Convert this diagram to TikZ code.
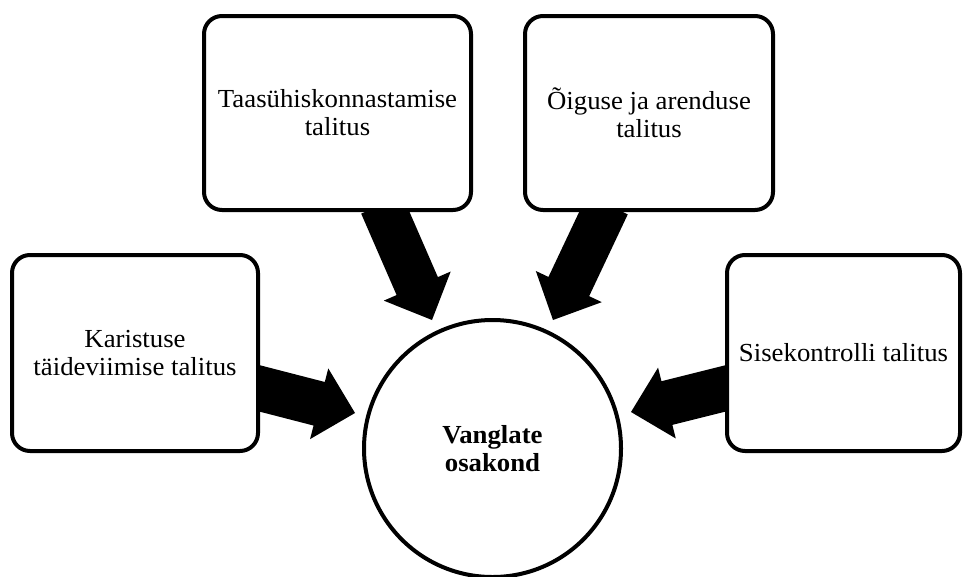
\documentclass[tikz,border=0pt]{standalone}
\usepackage{fontspec}
\setmainfont[FakeStretch=1.03]{Liberation Serif}
\usetikzlibrary{calc,backgrounds}
\newcommand{\blockarr}[2]{%
  \coordinate (ba-s) at ($(#1)!-8pt!(#2)$);
  \coordinate (ba-h) at ($(#2)!37pt!(#1)$);
  \fill[arrowfill] ($(ba-s)!22.5pt!90:(#2)$) -- ($(ba-h)!22.5pt!90:(#2)$)
    -- ($(ba-h)!36.5pt!90:(#2)$) -- (#2) -- ($(ba-h)!36.5pt!-90:(#2)$)
    -- ($(ba-h)!22.5pt!-90:(#2)$) -- ($(ba-s)!22.5pt!-90:(#2)$) -- cycle;}
\begin{document}
\begin{tikzpicture}[x=1pt,y=-1pt,
  unit/.style={draw=black, line width=4pt, rounded corners=18pt, fill=white,
    rectangle, inner sep=0pt, align=center, font=\fontsize{26}{28}\selectfont},
  hub/.style={draw=black, line width=4pt, circle, fill=white, inner sep=0pt,
    minimum size=257pt, align=center, font=\fontsize{26}{28}\selectfont\bfseries},
  arrowfill/.style={fill=black}]
\useasboundingbox (0,0) rectangle (963,576);
\node[unit, minimum width=246pt, minimum height=196pt] (kar) at (135,353) {Karistuse\\täideviimise talitus};
\node[unit, minimum width=267pt, minimum height=194pt] (taas) at (337.5,113) {Taasühiskonnastamise\\talitus};
\node[unit, minimum width=248pt, minimum height=194pt] (oig) at (649,113) {Õiguse ja arenduse\\talitus};
\node[unit, minimum width=233pt, minimum height=196pt] (sise) at (843.5,353) {Sisekontrolli talitus};
\node[hub] (hub) at (492.5,448.5) {Vanglate\\osakond};
\coordinate (s1) at ($(kar.east)+(0,35.5)$);
\coordinate (t1) at ($(hub.center)+(-137.5,-35.5)$);
\coordinate (s2) at ($(taas.south)+(47.5,0)$);
\coordinate (t2) at ($(hub.center)+(-60.5,-128.5)$);
\coordinate (s3) at ($(oig.south)+(-45,0)$);
\coordinate (t3) at ($(hub.center)+(60.5,-128.5)$);
\coordinate (s4) at ($(sise.west)+(0,35.5)$);
\coordinate (t4) at ($(hub.center)+(138.5,-36.5)$);
\begin{scope}[on background layer]
\blockarr{s1}{t1}
\blockarr{s2}{t2}
\blockarr{s3}{t3}
\blockarr{s4}{t4}
\end{scope}
\end{tikzpicture}
\end{document}
